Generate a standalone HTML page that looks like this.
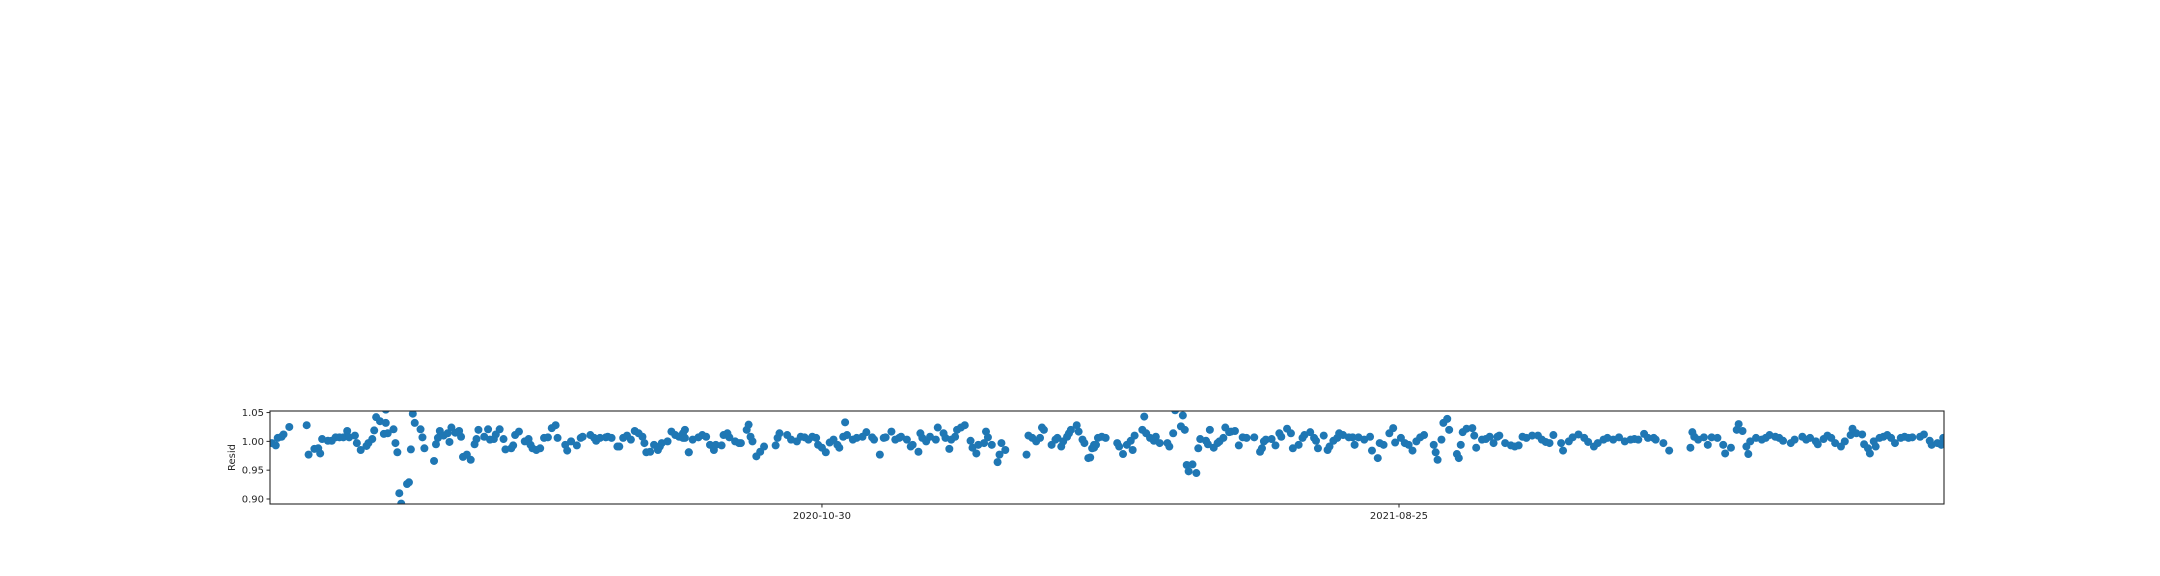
<!DOCTYPE html>
<html><head><meta charset="utf-8"><style>
html,body{margin:0;padding:0;background:#fff;}
svg{display:block;font-family:"DejaVu Sans","Liberation Sans",sans-serif;}
</style></head><body>
<svg id="chart" width="2160" height="576" viewBox="0 0 2160 576" xmlns="http://www.w3.org/2000/svg">
<rect x="0" y="0" width="2160" height="576" fill="#fff"/>
<g id="points"></g>
<g id="axes"></g>
</svg>
<script>
const startDate = "2020-01-18";
const endDay = 867.4;
const days = [1,3,4,6,7,10,19,20,23,25,26,27,30,32,34,36,38,40,41,44,45,47,50,51,53,54,55,57,59,60,60,61,64,65,66,67,68,71,72,73,74,75,78,79,80,85,86,87,88,90,92,93,94,96,98,99,100,102,104,106,107,108,111,113,114,116,117,119,121,122,125,126,127,129,132,134,135,136,138,140,142,144,146,148,149,153,154,156,159,161,162,166,168,169,171,174,175,177,180,181,183,185,187,189,191,193,194,195,197,199,201,202,203,206,208,210,212,214,215,217,
214,215,217,219,222,224,226,228,230,231,234,235,237,238,241,243,244,247,248,249,250,252,254,256,262,263,264,268,270,273,275,277,279,281,283,284,286,288,290,292,294,295,297,298,299,302,304,307,309,312,313,316,318,319,322,324,326,327,330,332,333,336,337,338,340,342,345,346,349,350,352,353,355,356,358,360,363,364,366,367,370,371,372,374,377,378,379,381,392,393,395,397,399,400,401,405,407,408,410,411,413,414,415,418,419,421,422,424,426,427,429,
425,427,428,431,433,439,440,442,444,446,447,448,452,453,454,456,458,459,461,465,466,468,469,472,473,474,475,476,478,480,481,482,485,486,487,489,491,492,494,495,497,498,500,502,504,506,510,513,514,515,516,519,521,523,524,527,529,530,533,535,536,539,541,542,543,546,548,549,551,553,554,556,559,561,562,564,567,570,571,574,575,577,580,582,583,586,588,590,592,594,596,598,603,604,605,607,608,610,611,615,616,617,618,620,623,624,625,628,630,632,634,636,637,640,643,645,647,
649,651,654,657,659,661,663,665,669,670,673,675,678,681,683,686,688,691,693,696,699,702,705,707,709,712,714,717,718,722,725,736,737,738,740,743,745,747,750,753,754,757,760,761,763,765,766,767,770,773,775,777,780,782,784,788,790,794,796,798,801,802,805,807,809,811,814,816,819,820,822,825,826,828,829,831,832,834,836,838,840,842,845,847,849,851,855,857,860,861,864,866,867];
const values = [0.997,0.993,1.006,1.008,1.012,1.025,1.028,0.977,0.987,0.988,0.979,1.004,1.001,1.001,1.007,1.007,1.007,1.018,1.007,1.010,0.997,0.985,0.992,0.997,1.004,1.019,1.042,1.035,1.013,1.032,1.055,1.014,1.021,0.997,0.981,0.910,0.892,0.926,0.929,0.986,1.048,1.032,1.021,1.007,0.988,0.966,0.995,1.006,1.018,1.010,1.014,0.999,1.024,1.015,1.018,1.008,0.973,0.977,0.968,0.995,1.004,1.020,1.008,1.021,1.003,1.004,1.012,1.021,1.004,0.986,0.988,0.993,1.011,1.017,1.000,1.004,0.994,0.988,0.985,0.988,1.006,1.007,1.023,1.028,1.006,0.994,0.984,1.000,0.993,1.006,1.008,1.011,1.006,1.001,1.006,1.007,1.008,1.006,0.991,0.991,1.006,1.010,1.003,1.018,1.014,1.008,0.997,0.981,0.982,0.994,0.985,0.991,0.997,1.000,1.017,1.011,1.008,1.006,1.020,0.981,
1.014,1.006,0.981,1.003,1.007,1.011,1.008,0.994,0.985,0.994,0.993,1.011,1.014,1.007,1.000,0.997,0.997,1.020,1.029,1.008,1.000,0.974,0.982,0.991,0.993,1.006,1.014,1.011,1.003,1.000,1.008,1.007,1.003,1.008,1.006,0.994,0.989,0.981,0.998,1.003,0.994,0.989,1.008,1.033,1.011,1.003,1.006,1.008,1.016,1.007,1.003,0.977,1.006,1.007,1.017,1.003,1.006,1.008,1.003,0.991,0.994,0.982,1.014,1.006,1.000,1.008,1.003,1.024,1.014,1.006,0.987,1.003,1.008,1.020,1.024,1.028,1.001,0.989,0.979,0.994,0.997,1.017,1.007,0.994,0.964,0.977,0.997,0.985,0.977,1.010,1.006,1.000,1.006,1.024,1.020,0.994,1.003,1.006,0.991,1.000,1.008,1.014,1.020,1.028,1.017,1.003,0.997,0.971,0.988,0.994,1.006,
0.972,0.989,0.994,1.008,1.006,0.997,0.991,0.978,0.994,1.001,0.985,1.010,1.020,1.043,1.014,1.006,1.001,1.008,0.997,0.997,0.991,1.014,1.054,1.026,1.045,1.020,0.959,0.948,0.960,0.945,0.988,1.004,1.001,0.995,1.020,0.989,0.997,1.000,1.006,1.024,1.016,1.017,1.018,0.993,1.007,1.006,1.007,0.982,0.988,1.000,1.003,1.004,0.993,1.014,1.008,1.022,1.014,0.988,0.994,1.006,1.011,1.016,1.006,1.001,0.988,1.010,0.985,0.991,1.001,1.006,1.014,1.011,1.007,1.007,0.994,1.007,1.003,1.008,0.984,0.971,0.997,0.994,1.014,1.023,0.998,1.006,0.997,0.994,0.984,1.000,1.007,1.011,0.994,0.981,0.968,1.003,1.032,1.039,1.020,0.978,0.971,0.994,1.016,1.022,1.023,1.010,0.989,1.003,1.004,1.008,0.997,1.008,1.010,0.997,0.993,0.991,0.993,
1.008,1.006,1.010,1.010,1.003,0.999,0.997,1.011,0.997,0.984,1.000,1.007,1.012,1.006,0.999,0.991,0.997,1.003,1.006,1.003,1.007,1.000,1.003,1.004,1.003,1.013,1.006,1.006,1.003,0.997,0.984,0.989,1.016,1.008,1.003,1.007,0.994,1.007,1.006,0.994,0.979,0.989,1.020,1.030,1.018,0.991,0.978,1.000,1.006,1.003,1.006,1.011,1.008,1.006,1.001,0.997,1.003,1.008,1.003,1.006,1.000,0.995,1.004,1.010,1.006,0.997,0.991,1.000,1.011,1.022,1.014,1.012,0.995,0.988,0.979,1.000,0.991,1.006,1.008,1.011,1.006,0.997,1.006,1.008,1.006,1.007,1.008,1.012,1.001,0.994,0.997,0.994,1.006];
const yTicks = [0.90, 0.95, 1.00, 1.05];
const yTickLabels = ["0.90", "0.95", "1.00", "1.05"];
const xTickDates = ["2020-10-30", "2021-08-25"];
const yDomain = [0.8913, 1.0527];

const L = 270, R = 1944, T = 411, B = 504;
const NS = "http://www.w3.org/2000/svg";
const dayMs = 86400000;
function dayOf(s){ return (Date.parse(s) - Date.parse(startDate)) / dayMs; }
function xScale(d){ return L + (d / endDay) * (R - L); }
function yScale(v){ return B - (v - yDomain[0]) / (yDomain[1] - yDomain[0]) * (B - T); }
function mk(tag, attrs, parent){
  const e = document.createElementNS(NS, tag);
  for (const k in attrs) e.setAttribute(k, attrs[k]);
  parent.appendChild(e);
  return e;
}
const svg = document.getElementById('chart');
const pts = document.getElementById('points');
const axes = document.getElementById('axes');
// clip
const defs = mk('defs', {}, svg);
const cp = mk('clipPath', {id: 'clip'}, defs);
mk('rect', {x: L, y: T, width: R - L, height: B - T}, cp);
pts.setAttribute('clip-path', 'url(#clip)');
for (let i = 0; i < values.length; i++) {
  const c = mk('circle', {cx: xScale(days[i]).toFixed(2), cy: yScale(values[i]).toFixed(2), r: 4, fill: '#1f77b4'}, pts);
  
  
}
// frame
const frame = mk('rect', {x: L, y: T, width: R - L, height: B - T, fill: 'none', stroke: '#262626', 'stroke-width': 1.1}, axes);


// y ticks
for (let i = 0; i < yTicks.length; i++) {
  const y = yScale(yTicks[i]);
  const tk = mk('line', {x1: L - 3.5, x2: L, y1: y, y2: y, stroke: '#262626', 'stroke-width': 1}, axes);
  
  
  const t = mk('text', {x: L - 6, y: y + 3.5, 'font-size': 10, 'text-anchor': 'end', fill: '#262626'}, axes);
  t.textContent = yTickLabels[i];
  
  
}
// x ticks
for (let i = 0; i < xTickDates.length; i++) {
  const x = xScale(dayOf(xTickDates[i]));
  const tk = mk('line', {x1: x, x2: x, y1: B, y2: B + 3.5, stroke: '#262626', 'stroke-width': 1}, axes);
  
  
  const t = mk('text', {x: x, y: B + 15, 'font-size': 10, 'text-anchor': 'middle', fill: '#262626'}, axes);
  t.textContent = xTickDates[i];
  
  
}
const yl = mk('text', {x: 0, y: 0, 'font-size': 10, 'text-anchor': 'middle', fill: '#262626', transform: 'translate(235,' + ((T + B) / 2) + ') rotate(-90)'}, axes);
yl.textContent = 'Resid';


</script>
</body></html>
